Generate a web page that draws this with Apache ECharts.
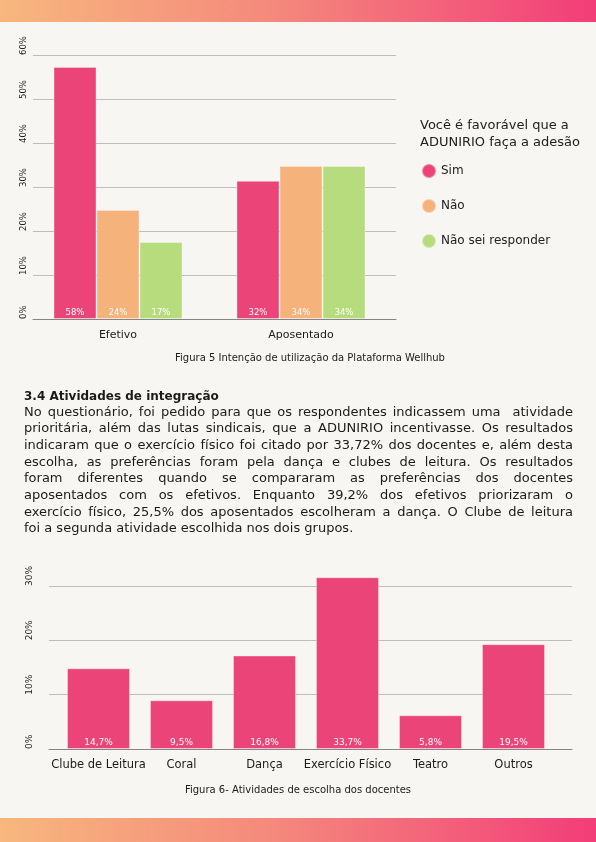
<!DOCTYPE html>
<html lang="pt">
<head>
<meta charset="UTF-8" />
<meta name="viewport" content="width=device-width, initial-scale=1.0" />
<title>Atividades de integração</title>
<style>
* {
  margin: 0;
  padding: 0;
}
body {
  width: 596px;
  height: 842px;
  position: relative;
  overflow: hidden;
  background: #F8F6F2;
  font-family: 'DejaVu Sans', sans-serif;
  color: #1b1b1b;
}
.band {
  position: absolute;
  left: 0;
  width: 596px;
  background: linear-gradient(to right, #F7B77E, #F48A7C 45%, #F23D79);
}
#chartEl {
  position: absolute;
  left: 0;
  top: 0;
  width: 596px;
  height: 842px;
}
.caption {
  position: absolute;
  font-size: 10px;
  line-height: 12px;
  white-space: nowrap;
  transform: translateX(-50%);
}
#heading {
  position: absolute;
  left: 24px;
  top: 388px;
  font-size: 12px;
  font-weight: bold;
  line-height: 16.7px;
}
#texto {
  position: absolute;
  left: 24px;
  top: 403.5px;
  width: 549px;
  font-size: 13px;
  line-height: 16.7px;
}
#texto div {
  white-space: nowrap;
  text-align: justify;
  text-align-last: justify;
}
#texto div.last {
  text-align-last: left;
}
</style>
</head>
<body>
<div class="band" style="top:0;height:22px;"></div>
<div class="band" style="top:818px;height:24px;"></div>
<div id="chartEl"></div>
<div class="caption" style="left:310px;top:352px;">Figura 5 Intenção de utilização da Plataforma Wellhub</div>
<div id="heading">3.4 Atividades de integração</div>
<div id="texto">
  <div>No questionário, foi pedido para que os respondentes indicassem uma &nbsp;atividade</div>
  <div>prioritária, além das lutas sindicais, que a ADUNIRIO incentivasse. Os resultados</div>
  <div>indicaram que o exercício físico foi citado por 33,72% dos docentes e, além desta</div>
  <div>escolha, as preferências foram pela dança e clubes de leitura. Os resultados</div>
  <div>foram diferentes quando se compararam as preferências dos docentes</div>
  <div>aposentados com os efetivos. Enquanto 39,2% dos efetivos priorizaram o</div>
  <div>exercício físico, 25,5% dos aposentados escolheram a dança. O Clube de leitura</div>
  <div class="last">foi a segunda atividade escolhida nos dois grupos.</div>
</div>
<div class="caption" style="left:298px;top:783.5px;">Figura 6- Atividades de escolha dos docentes</div>
<script src="https://cdn.jsdelivr.net/npm/echarts@6/dist/echarts.min.js"></script>
<script>
// Figura 5
const grupos = ['Efetivo', 'Aposentado'];
const respostas = ['Sim', 'Não', 'Não sei responder'];
const simValores = [57.3, 31.4];
const naoValores = [24.8, 34.8];
const naoSeiValores = [17.5, 34.8];
const simRotulos = ['58%', '32%'];
const naoRotulos = ['24%', '34%'];
const naoSeiRotulos = ['17%', '34%'];
const ticksFig5 = [0, 10, 20, 30, 40, 50, 60];

// Figura 6
const atividades = ['Clube de Leitura', 'Coral', 'Dança', 'Exercício Físico', 'Teatro', 'Outros'];
const atividadesValores = [14.85, 8.96, 17.2, 31.6, 6.2, 19.3];
const atividadesRotulos = ['14,7%', '9,5%', '16,8%', '33,7%', '5,8%', '19,5%'];
const ticksFig6 = [0, 10, 20, 30];

const cores = ['#EA4479', '#F5B27B', '#B7DC7E'];
const fonte = 'DejaVu Sans';

function eixoY(gridIndex, ticks, margin, size) {
  return {
    gridIndex: gridIndex,
    type: 'value',
    min: ticks[0],
    max: ticks[ticks.length - 1],
    interval: ticks[1] - ticks[0],
    axisLine: { show: false },
    axisTick: { show: false },
    axisLabel: {
      formatter: '{value}%',
      rotate: 90,
      align: 'left',
      margin: margin,
      color: '#222',
      fontFamily: fonte,
      fontSize: size,
    },
    splitLine: { lineStyle: { color: '#BDBDBD', width: 1 } },
  };
}
function eixoYOculto(gridIndex, ticks) {
  return {
    gridIndex: gridIndex,
    type: 'value',
    min: ticks[0],
    max: ticks[ticks.length - 1],
    interval: ticks[1] - ticks[0],
    show: false,
  };
}
function eixoLinha(gridIndex, data) {
  return {
    gridIndex: gridIndex,
    type: 'category',
    data: data,
    axisLine: { lineStyle: { color: '#858585', width: 1 } },
    axisTick: { show: false },
    axisLabel: { show: false },
  };
}
function eixoBarras(gridIndex, data, margin, size) {
  return {
    gridIndex: gridIndex,
    type: 'category',
    data: data,
    axisLine: { show: false },
    axisTick: { show: false },
    axisLabel: {
      interval: 0,
      margin: margin,
      color: '#1b1b1b',
      fontFamily: fonte,
      fontSize: size,
    },
  };
}
function serieFig5(nome, valores, rotulos, cor) {
  return {
    name: nome,
    type: 'bar',
    xAxisIndex: 1,
    yAxisIndex: 1,
    data: valores,
    barWidth: 43,
    barGap: '0%',
    itemStyle: { color: cor, borderColor: 'rgba(255,255,255,0.35)', borderWidth: 1 },
    label: {
      show: true,
      position: 'insideBottom',
      distance: 2,
      color: '#fff',
      fontFamily: fonte,
      fontSize: 8.5,
      formatter: function (p) { return rotulos[p.dataIndex]; },
    },
  };
}

const myChart = echarts.init(document.getElementById('chartEl'));
myChart.setOption({
  animation: false,
  title: {
    text: 'Você é favorável que a\nADUNIRIO faça a adesão',
    left: 420,
    top: 117.5,
    padding: 0,
    textStyle: {
      fontFamily: fonte,
      fontSize: 13,
      fontWeight: 'normal',
      lineHeight: 16.7,
      color: '#222',
    },
  },
  legend: {
    orient: 'vertical',
    left: 421,
    top: 163,
    padding: 0,
    itemWidth: 14,
    itemHeight: 14,
    itemGap: 19,
    icon: 'circle',
    selectedMode: false,
    data: respostas,
    textStyle: { fontFamily: fonte, fontSize: 12, color: '#222' },
  },
  grid: [
    { left: 33, right: 200, top: 55, bottom: 523 },
    { left: 26.5, right: 203.5, top: 55, bottom: 523 },
    { left: 49, right: 24, top: 586, bottom: 93 },
    { left: 57, right: 41, top: 586, bottom: 93 },
  ],
  xAxis: [
    eixoLinha(0, grupos),
    eixoBarras(1, grupos, 11, 11),
    eixoLinha(2, atividades),
    eixoBarras(3, atividades, 10, 11.5),
  ],
  yAxis: [
    eixoY(0, ticksFig5, 5, 8.5),
    eixoYOculto(1, ticksFig5),
    eixoY(2, ticksFig6, 15, 9),
    eixoYOculto(3, ticksFig6),
  ],
  series: [
    serieFig5(respostas[0], simValores, simRotulos, cores[0]),
    serieFig5(respostas[1], naoValores, naoRotulos, cores[1]),
    serieFig5(respostas[2], naoSeiValores, naoSeiRotulos, cores[2]),
    {
      name: 'Atividades',
      type: 'bar',
      xAxisIndex: 3,
      yAxisIndex: 3,
      data: atividadesValores,
      barWidth: 63,
      clip: false,
      itemStyle: { color: cores[0], borderColor: 'rgba(255,255,255,0.35)', borderWidth: 1 },
      label: {
        show: true,
        position: 'insideBottom',
        distance: 2,
        color: '#fff',
        fontFamily: fonte,
        fontSize: 9,
        formatter: function (p) { return atividadesRotulos[p.dataIndex]; },
      },
    },
  ],
});
</script>
</body>
</html>
